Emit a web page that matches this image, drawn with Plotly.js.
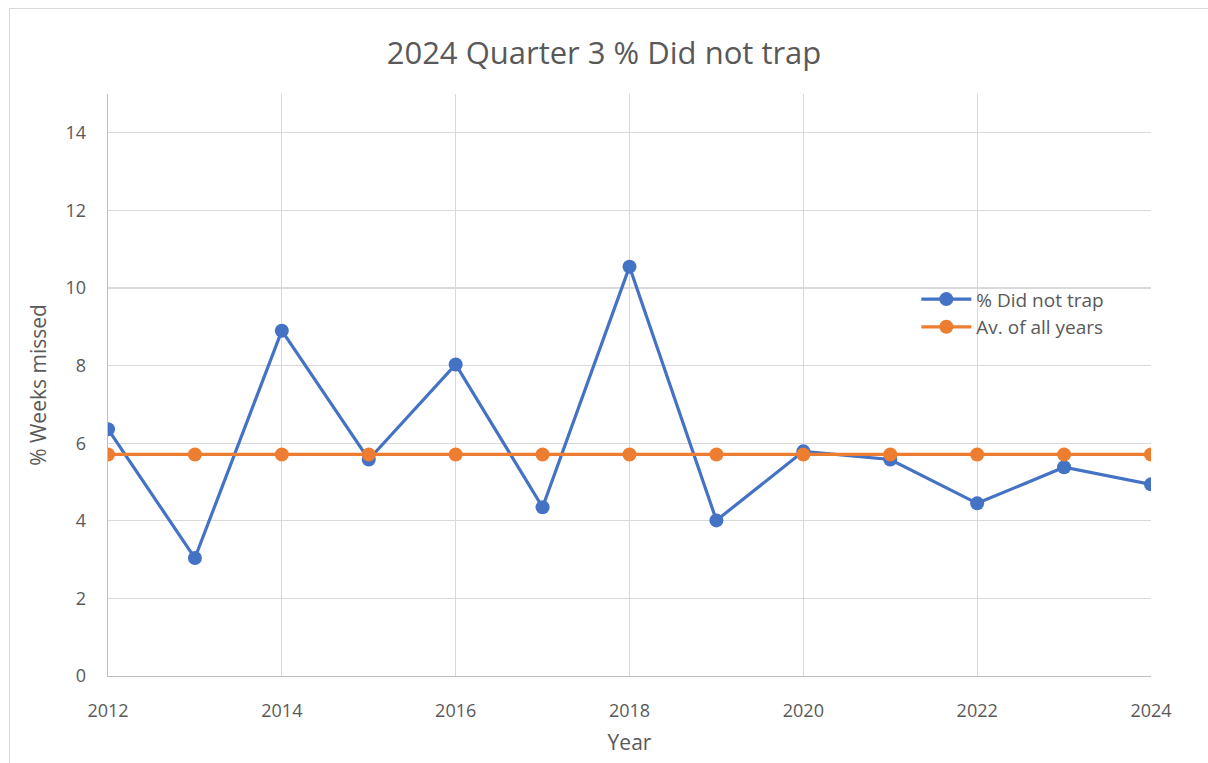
<!DOCTYPE html>
<html>
<head>
<meta charset="utf-8">
<script src="https://cdn.plot.ly/plotly-3.0.1.min.js"></script>
<style>
html,body{margin:0;padding:0;background:#fff;}
#wrap{position:relative;width:1208px;height:763px;overflow:hidden;}
#chart{position:absolute;left:0;top:0;width:1208px;height:763px;}
#frame{position:absolute;left:9px;top:8px;width:1300px;height:900px;border:1px solid #d9d9d9;pointer-events:none;}
</style>
</head>
<body>
<div id="wrap"><div id="chart"></div><div id="frame"></div></div>
<script>
const years = [2012,2013,2014,2015,2016,2017,2018,2019,2020,2021,2022,2023,2024];
const didNotTrap = [6.36,3.04,8.90,5.58,8.03,4.35,10.55,4.01,5.79,5.58,4.45,5.38,4.94];
const avgAllYears = [5.71,5.71,5.71,5.71,5.71,5.71,5.71,5.71,5.71,5.71,5.71,5.71,5.71];
const xTicks = [2012,2014,2016,2018,2020,2022,2024];
const yTicks = [0,2,4,6,8,10,12,14];

const font = 'Open Sans, Noto Sans, sans-serif';
const traces = [
  {x: years, y: didNotTrap, name: '% Did not trap', mode: 'lines+markers', type: 'scatter',
   line: {color: '#4472C4', width: 3.2}, marker: {color: '#4472C4', size: 14}},
  {x: years, y: avgAllYears, name: 'Av. of all years', mode: 'lines+markers', type: 'scatter',
   line: {color: '#ED7D31', width: 3.2}, marker: {color: '#ED7D31', size: 14}}
];
const layout = {
  width: 1208, height: 763,
  margin: {l: 108, r: 57, t: 94, b: 87},
  paper_bgcolor: '#fff', plot_bgcolor: '#fff',
  font: {family: font, color: '#595959', size: 18},
  title: {text: '2024 Quarter 3 % Did not trap', font: {family: font, size: 31, color: '#595959'},
          x: 0.5, xanchor: 'center', y: 0.93, yanchor: 'middle'},
  xaxis: {range: [2012, 2024], tickvals: xTicks, ticktext: xTicks.map(String),
          showgrid: true, gridcolor: '#d9d9d9', gridwidth: 1.3, zeroline: false,
          showline: true, linecolor: '#bfbfbf', linewidth: 1.3, ticks: '', ticklen: 0,
          tickfont: {size: 18, color: '#595959'}, ticklabelstandoff: 18,
          title: {text: 'Year', font: {size: 21, color: '#595959'}, standoff: 14}},
  yaxis: {range: [0, 15], tickvals: yTicks, ticktext: yTicks.map(String),
          showgrid: true, gridcolor: '#d9d9d9', gridwidth: 1.3, zeroline: false,
          showline: true, linecolor: '#bfbfbf', linewidth: 1.3, ticks: '',
          tickfont: {size: 18, color: '#595959'}, ticklabelstandoff: 17,
          title: {text: '% Weeks missed', font: {size: 21, color: '#595959'}, standoff: 13}},
  legend: {x: 0.775, y: 0.68, xanchor: 'left', yanchor: 'top', bgcolor: 'rgba(0,0,0,0)',
           font: {size: 19, color: '#595959'}, tracegroupgap: 0, itemwidth: 50},
  showlegend: true
};
Plotly.newPlot('chart', traces, layout, {displayModeBar: false, staticPlot: true});
</script>
</body>
</html>
